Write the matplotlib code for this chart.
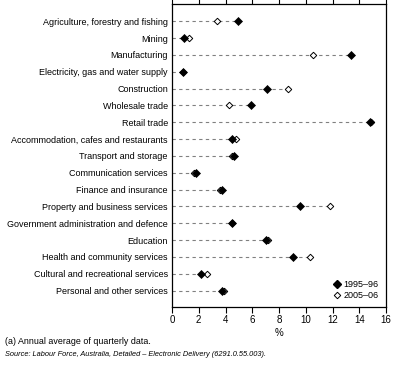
import matplotlib
matplotlib.use("Agg")
import matplotlib.pyplot as plt
from matplotlib.lines import Line2D

categories = [
    "Agriculture, forestry and fishing", "Mining", "Manufacturing",
    "Electricity, gas and water supply", "Construction", "Wholesale trade",
    "Retail trade", "Accommodation, cafes and restaurants", "Transport and storage",
    "Communication services", "Finance and insurance", "Property and business services",
    "Government administration and defence", "Education", "Health and community services",
    "Cultural and recreational services", "Personal and other services",
]
v1995 = [4.9, 0.9, 13.35, 0.85, 7.1, 5.9, 14.8, 4.5, 4.65, 1.8, 3.75, 9.55, 4.5, 7.0, 9.05, 2.2, 3.75]
v2005 = [3.4, 1.25, 10.55, 0.8, 8.65, 4.25, 14.9, 4.75, 4.5, 1.65, 3.6, 11.85, 4.5, 7.15, 10.35, 2.6, 3.9]
xticks = [0, 2, 4, 6, 8, 10, 12, 14, 16]
series_names = ["1995–96", "2005–06"]

plt.rcParams['font.family'] = ['Liberation Sans', 'DejaVu Sans']
fig = plt.figure(figsize=(3.97, 3.78), dpi=100)
W, H = 397, 378
ax = fig.add_axes([172 / W, 1 - 307 / H, (386 - 172) / W, (307 - 4) / H])

n = len(categories)
ys = [n - 1 - i for i in range(n)]
for y, a, b in zip(ys, v1995, v2005):
    ax.plot([0, max(a, b)], [y, y], color='#808080', lw=0.8, dashes=(3, 3), zorder=1)
ax.plot(v2005, ys, linestyle='none', marker='D', ms=3.3, mfc='white', mec='black', mew=0.7, zorder=2)
ax.plot(v1995, ys, linestyle='none', marker='D', ms=3.6, mfc='black', mec='black', mew=0.5, zorder=3)

ax.set_xlim(0, 16)
ax.set_ylim(-0.98, n - 1 + 1.03)
ax.set_xticks(xticks)
ax.set_xticklabels([str(t) for t in xticks], fontsize=7)
ax.set_yticks(ys)
ax.set_yticklabels(categories, fontsize=6.5)
ax.tick_params(axis='y', length=0, pad=3)
ax.tick_params(axis='x', length=4, width=0.8, pad=2, top=True, direction='out')
for s in ax.spines.values():
    s.set_linewidth(0.9)
ax.set_xlabel('%', fontsize=7, labelpad=2)

handles = [
    Line2D([], [], linestyle='none', marker='D', ms=3.6, mfc='black', mec='black'),
    Line2D([], [], linestyle='none', marker='D', ms=3.3, mfc='white', mec='black', mew=0.7),
]
ax.legend(handles, series_names, loc='lower right', frameon=False, fontsize=6.5,
          handlelength=0.8, handletextpad=0.3, borderaxespad=0.4, labelspacing=0.15)

fig.text(5 / W, 1 - 342 / H, '(a) Annual average of quarterly data.', fontsize=6.4, va='center')
fig.text(5 / W, 1 - 354 / H, 'Source: Labour Force, Australia, Detailed – Electronic Delivery (6291.0.55.003).',
         fontsize=5.3, va='center', style='italic')

fig.savefig('out.png', dpi=100)
